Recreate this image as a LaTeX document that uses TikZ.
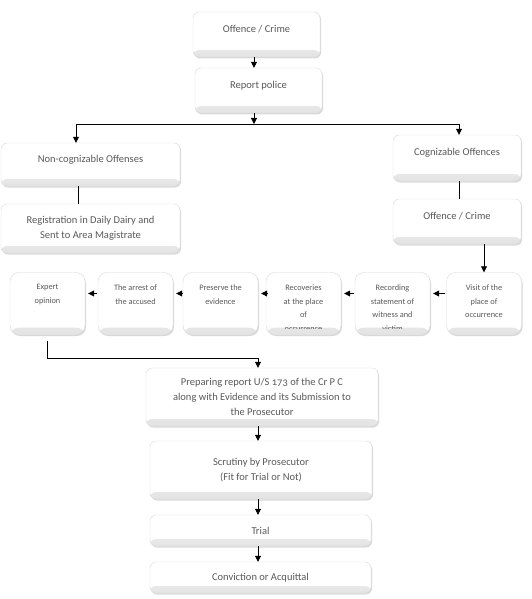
\documentclass[tikz,border=0pt]{standalone}
\usepackage{fontspec}
\setmainfont{Carlito}
\usetikzlibrary{arrows.meta,positioning,shadows}
\pgfdeclarehorizontalshading{hbevel}{100bp}{color(0bp)=(gray!30); color(7bp)=(white); color(93bp)=(white); color(100bp)=(gray!14)}
\tikzset{
  box/.style={draw=gray!30, line width=.4pt, rounded corners=6pt, shade, shading=hbevel,
    text=black!65, align=center, font=\fontsize{10.5}{15}\selectfont,
    drop shadow={shadow xshift=1pt, shadow yshift=-1.5pt, opacity=.3},
    path picture={\shade[top color=white, bottom color=gray!22]
      ([yshift=7pt]path picture bounding box.south west) rectangle (path picture bounding box.south east);}},
  rowbox/.style={box, minimum width=75pt, minimum height=62pt, rounded corners=9pt},
  rowtext/.style={text=black!65, align=center, font=\fontsize{8.3}{13.8}\selectfont, inner sep=0pt},
  upper/.style={text depth=12pt},
  link/.style={line width=.8pt, -{Triangle[width=6pt,length=6pt]}},
}
\begin{document}
\begin{tikzpicture}[x=1pt,y=-1pt]
  \useasboundingbox (0,0) rectangle (532,599);
  \node[box, upper, minimum width=127pt, minimum height=45pt] (crime) at (256.5,34.5) {Offence / Crime};
  \node[box, upper, minimum width=127pt, minimum height=45pt] (report) at (258.5,90.5) {Report police};
  \node[box, upper, minimum width=179pt, minimum height=43pt] (noncog) at (90.5,164.5) {Non-cognizable Offenses};
  \node[box, minimum width=179pt, minimum height=49pt] (diary) at (90.5,228.5) {Registration in Daily Dairy and\\Sent to Area Magistrate};
  \node[box, upper, minimum width=128pt, minimum height=46pt] (cog) at (457,158) {Cognizable Offences};
  \node[box, upper, minimum width=128pt, minimum height=45pt] (crime2) at (457,221.5) {Offence / Crime};
  \foreach \x/\n/\t in {47.5/expert/{Expert\\opinion}, 135.5/arrest/{The arrest of\\the accused},
      220.5/preserve/{Preserve the\\evidence}, 303.5/recover/{Recoveries\\at the place\\of\\occurrence},
      392.5/record/{Recording\\statement of\\witness and\\victim}, 484/visit/{Visit of the\\place of\\occurrence}}{
    \node[rowbox] (\n) at (\x,303.5) {};
    \begin{scope}
      \clip (\x-40,273) rectangle (\x+40,328);
      \node[rowtext, below=12pt of \n.north] (\n-t) {\t};
    \end{scope}
  }
  \node[box, minimum width=232pt, minimum height=58pt] (prep) at (262,397)
    {Preparing report U/S {\addfontfeature{Numbers=OldStyle}173} of the Cr P C\\along with Evidence and its Submission to\\the Prosecutor};
  \node[box, minimum width=222pt, minimum height=58pt] (scrutiny) at (261,470) {Scrutiny by Prosecutor\\(Fit for Trial or Not)};
  \node[box, minimum width=221pt, minimum height=31pt] (trial) at (260.5,530.5) {Trial};
  \node[box, minimum width=221pt, minimum height=31pt] (verdict) at (260.5,577.5) {Conviction or Acquittal};

  \coordinate (split) at (254,124);
  \coordinate (jl) at (76,124);
  \coordinate (jr) at (459,124);
  \coordinate (jb) at (258,358);
  \draw[link] (crime.south -| split) -- (report.north -| split);
  \draw[link] (report.south -| split) -- (split);
  \draw[line width=.8pt] (jl) -- (jr);
  \draw[link] (jl) -- (jl |- noncog.north);
  \draw[link] (jr) -- (jr |- cog.north);
  \draw[line width=.8pt] ([xshift=2pt]jl |- noncog.south) -- ([xshift=2pt]jl |- diary.north);
  \draw[line width=.8pt] (jr |- cog.south) -- (jr |- crime2.north);
  \draw[link] (crime2.south -| visit-t) -- (visit.north);
  \foreach \a/\b in {visit/record, record/recover, recover/preserve, preserve/arrest, arrest/expert}
    \draw[link, shorten <=1pt, shorten >=3pt] ([yshift=10pt]\a.west) -- ([yshift=10pt]\b.east);
  \draw[link, shorten <=6pt] (expert.south) |- (jb) -- (jb |- prep.north);
  \draw[link] (prep.south -| jb) -- (scrutiny.north -| jb);
  \draw[link] (scrutiny.south -| jb) -- (trial.north -| jb);
  \draw[link] (trial.south -| jb) -- (verdict.north -| jb);
\end{tikzpicture}
\end{document}
